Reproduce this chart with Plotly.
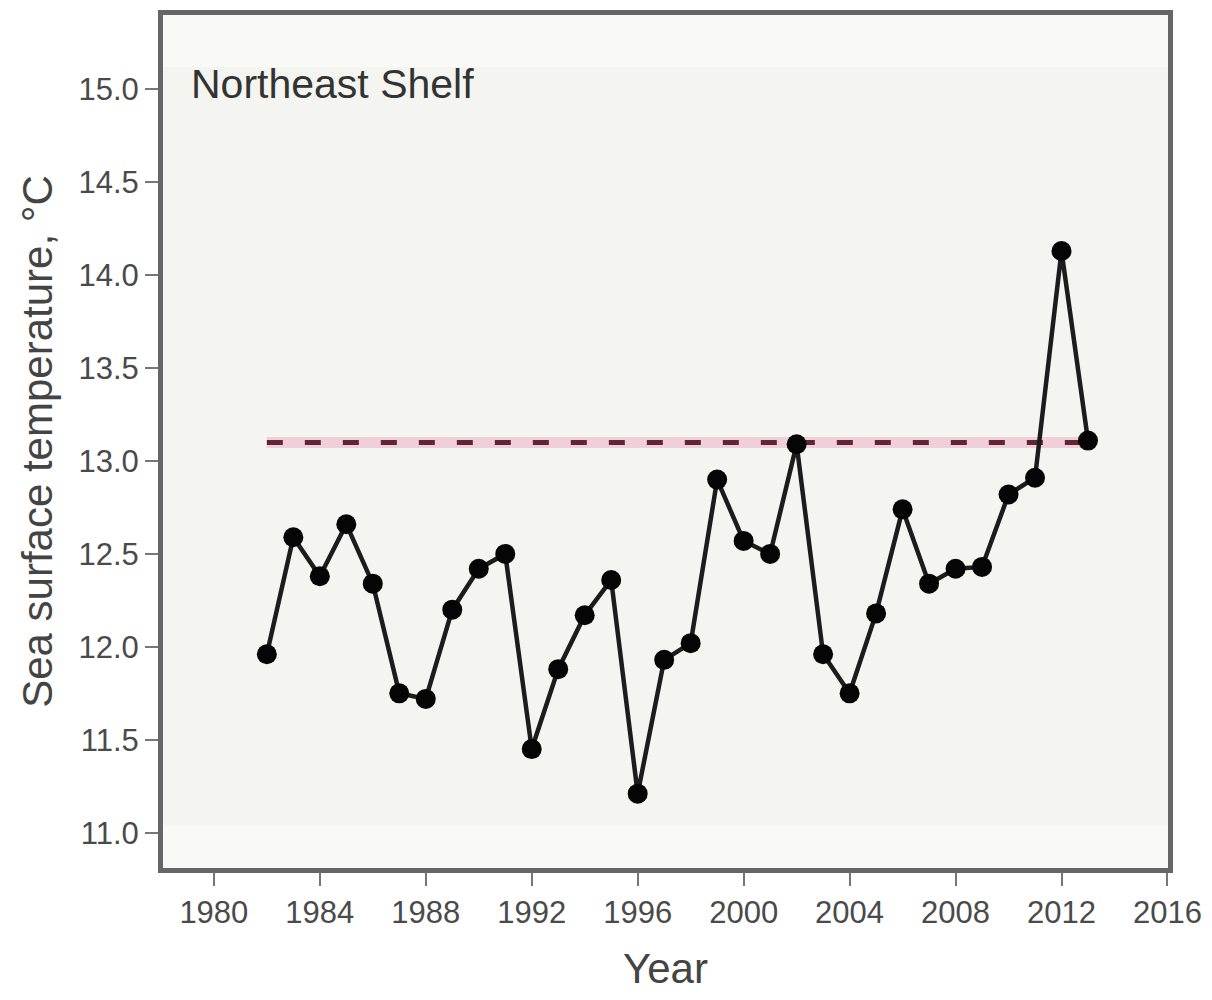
import plotly.graph_objects as go

# Annual mean sea surface temperature, Northeast Shelf
years = list(range(1982, 2014))
sst = [11.96, 12.59, 12.38, 12.66, 12.34, 11.75, 11.72, 12.20, 12.42, 12.50,
       11.45, 11.88, 12.17, 12.36, 11.21, 11.93, 12.02, 12.90, 12.57, 12.50,
       13.09, 11.96, 11.75, 12.18, 12.74, 12.34, 12.42, 12.43, 12.82, 12.91,
       14.13, 13.11]

# Reference level drawn as a dashed line across the record
ref_years = [1982, 2013]
ref_level = 13.10

x_ticks = [1980, 1984, 1988, 1992, 1996, 2000, 2004, 2008, 2012, 2016]
y_ticks = [11.0, 11.5, 12.0, 12.5, 13.0, 13.5, 14.0, 14.5, 15.0]

region_label = "Northeast Shelf"
x_title = "Year"
y_title = "Sea surface temperature, °C"

FONT = "Liberation Sans, Arial, sans-serif"

fig = go.Figure()

# pale red underlay beneath the dashed reference line
fig.add_trace(go.Scatter(
    x=ref_years, y=[ref_level, ref_level], mode="lines",
    line=dict(color="rgba(235,150,180,0.40)", width=11),
    hoverinfo="skip", showlegend=False))
fig.add_trace(go.Scatter(
    x=ref_years, y=[ref_level, ref_level], mode="lines",
    line=dict(color="#5e2636", width=5, dash="16px,22px"),
    hoverinfo="skip", showlegend=False))

# annual series
fig.add_trace(go.Scatter(
    x=years, y=sst, mode="lines+markers",
    line=dict(color="#1c1c1c", width=4.5),
    marker=dict(color="#050505", size=20),
    showlegend=False))

axis_common = dict(
    showline=True, linecolor="#666666", linewidth=5, mirror=True,
    showgrid=False, zeroline=False,
    ticks="outside", ticklen=13, tickwidth=2, tickcolor="#777777",
    tickfont=dict(family=FONT, size=31, color="#4a4a4a"),
)

fig.update_layout(
    width=1212, height=1000,
    margin=dict(l=163, r=44, t=10, b=132),
    paper_bgcolor="white",
    plot_bgcolor="#f4f5f0",
    xaxis=dict(
        range=[1978.08, 2016.02],
        tickmode="array", tickvals=x_ticks, ticktext=[str(t) for t in x_ticks],
        title=dict(text=x_title, standoff=26,
                   font=dict(family=FONT, size=42, color="#444444")),
        **axis_common),
    yaxis=dict(
        range=[10.81, 15.40],
        tickmode="array", tickvals=y_ticks, ticktext=[f"{t:.1f}" for t in y_ticks],
        title=dict(text=y_title, standoff=14,
                   font=dict(family=FONT, size=42, color="#444444")),
        **axis_common),
    shapes=[
        # lighter strips along the top and bottom of the panel
        dict(type="rect", xref="paper", yref="y", x0=0, x1=1, y0=15.12, y1=15.40,
             fillcolor="#f9f9f6", line=dict(width=0), layer="below"),
        dict(type="rect", xref="paper", yref="y", x0=0, x1=1, y0=10.81, y1=11.04,
             fillcolor="#f9f9f5", line=dict(width=0), layer="below"),
    ],
    annotations=[
        dict(text=region_label, xref="x", yref="y", x=1979.05, y=15.03,
             xanchor="left", yanchor="middle", showarrow=False,
             font=dict(family=FONT, size=41, color="#333333")),
    ],
)

fig.write_html("out.html")
